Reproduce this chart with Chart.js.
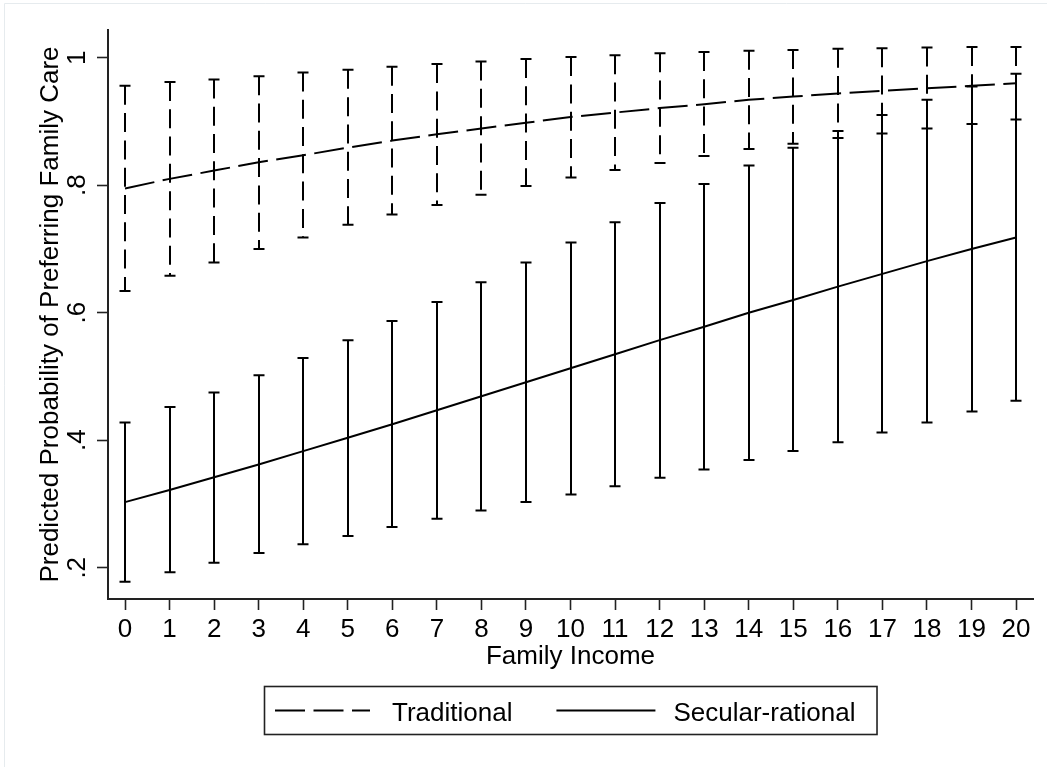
<!DOCTYPE html>
<html>
<head>
<meta charset="utf-8">
<title>Predicted Probability of Preferring Family Care</title>
<script src="https://cdn.jsdelivr.net/npm/chart.js@4.4.1/dist/chart.umd.min.js"></script>
<style>
  html, body { margin: 0; padding: 0; background: #fff; }
  canvas { display: block; }
</style>
</head>
<body>
<canvas id="chart" width="1047" height="767"></canvas>
<script>
// Family income categories (x axis)
const income = [0, 1, 2, 3, 4, 5, 6, 7, 8, 9, 10, 11, 12, 13, 14, 15, 16, 17, 18, 19, 20];

// Traditional: predicted probability and 95% confidence bounds
const tradMean = [0.795, 0.810, 0.823, 0.836, 0.847, 0.859, 0.870, 0.880, 0.889, 0.898, 0.907,
                  0.914, 0.921, 0.927, 0.934, 0.939, 0.944, 0.948, 0.952, 0.956, 0.960];
const tradHigh = [0.956, 0.962, 0.966, 0.971, 0.977, 0.981, 0.986, 0.990, 0.994, 0.998, 1.001,
                  1.004, 1.007, 1.009, 1.011, 1.012, 1.014, 1.015, 1.016, 1.017, 1.017];
const tradLow  = [0.634, 0.658, 0.679, 0.700, 0.718, 0.738, 0.754, 0.769, 0.785, 0.799, 0.812,
                  0.824, 0.835, 0.846, 0.857, 0.865, 0.874, 0.881, 0.889, 0.896, 0.903];

// Secular-rational: predicted probability and 95% confidence bounds
const secMean = [0.303, 0.322, 0.342, 0.362, 0.383, 0.404, 0.425, 0.447, 0.469, 0.491, 0.513,
                 0.535, 0.557, 0.578, 0.600, 0.620, 0.641, 0.661, 0.681, 0.700, 0.718];
const secHigh = [0.428, 0.452, 0.475, 0.502, 0.529, 0.557, 0.587, 0.617, 0.648, 0.679, 0.710,
                 0.742, 0.772, 0.802, 0.831, 0.859, 0.885, 0.910, 0.934, 0.955, 0.975];
const secLow  = [0.178, 0.193, 0.208, 0.223, 0.237, 0.250, 0.264, 0.277, 0.290, 0.303, 0.315,
                 0.328, 0.341, 0.354, 0.369, 0.383, 0.397, 0.412, 0.428, 0.445, 0.462];

// Axis ticks and labels
const xTicks = income;
const yTicks = [0.2, 0.4, 0.6, 0.8, 1.0];
const seriesNames = ['Traditional', 'Secular-rational'];
const xTitle = 'Family Income';
const yTitle = 'Predicted Probability of Preferring Family Care';

const FONT_FAMILY = "'Liberation Sans', Arial, Helvetica, sans-serif";
const FONT_SIZE = 26;
const INK = '#000000';
const AXIS = '#222222';
const LINE_DASH = [30, 8.5];
const BAR_DASH = [19, 8.3];

const toPoints = (ys) => income.map((x, i) => ({ x: x, y: ys[i] }));

const series = [
  { name: seriesNames[0], mean: tradMean, low: tradLow, high: tradHigh, dash: LINE_DASH, barDash: BAR_DASH },
  { name: seriesNames[1], mean: secMean,  low: secLow,  high: secHigh,  dash: [],        barDash: [] }
];

// Outer frame and white background
const backgroundPlugin = {
  id: 'pageBackground',
  beforeDraw(chart) {
    const ctx = chart.ctx;
    ctx.save();
    ctx.fillStyle = '#ffffff';
    ctx.fillRect(0, 0, chart.width, chart.height);
    ctx.strokeStyle = '#e6ebee';
    ctx.lineWidth = 1;
    ctx.beginPath();
    ctx.moveTo(4.5, chart.height);
    ctx.lineTo(4.5, 3.5);
    ctx.lineTo(chart.width, 3.5);
    ctx.stroke();
    ctx.restore();
  }
};

// Confidence-interval capped spikes for each series
const ciPlugin = {
  id: 'ciCaps',
  afterDatasetsDraw(chart) {
    const ctx = chart.ctx;
    const xs = chart.scales.x, ys = chart.scales.y;
    const capHalf = 5.5;
    ctx.save();
    ctx.strokeStyle = INK;
    ctx.lineWidth = 2;
    ctx.lineCap = 'butt';
    series.forEach(s => {
      income.forEach((v, i) => {
        const px = Math.round(xs.getPixelForValue(v));
        const yHi = ys.getPixelForValue(s.high[i]);
        const yLo = ys.getPixelForValue(s.low[i]);
        ctx.setLineDash(s.barDash);
        ctx.beginPath();
        ctx.moveTo(px, yHi);
        ctx.lineTo(px, yLo);
        ctx.stroke();
        ctx.setLineDash([]);
        ctx.beginPath();
        ctx.moveTo(px - capHalf, yHi);
        ctx.lineTo(px + capHalf, yHi);
        ctx.moveTo(px - capHalf, yLo);
        ctx.lineTo(px + capHalf, yLo);
        ctx.stroke();
      });
    });
    ctx.restore();
  }
};

// Boxed legend under the x-axis title
const legendPlugin = {
  id: 'boxedLegend',
  afterDraw(chart) {
    const ctx = chart.ctx;
    const area = chart.chartArea;
    ctx.save();
    ctx.font = FONT_SIZE + 'px ' + FONT_FAMILY;
    const sampleW = [95, 99];
    const gapSampleText = [22, 18];
    const padL = 10.5, padR = 21.5, itemGap = 44;
    const texts = chart.data.datasets.map(d => d.label);
    const textW = texts.map(t => ctx.measureText(t).width);
    let total = padL + padR;
    texts.forEach((t, i) => { total += sampleW[i] + gapSampleText[i] + textW[i]; });
    total += itemGap * (texts.length - 1);
    const cx = (area.left + area.right) / 2;
    const boxL = Math.round(cx - total / 2) + 0.5;
    const boxT = 686.5, boxH = 48;
    ctx.strokeStyle = AXIS;
    ctx.lineWidth = 1.6;
    ctx.strokeRect(boxL, boxT, total, boxH);
    const midY = boxT + boxH / 2;
    let x = boxL + padL;
    chart.data.datasets.forEach((d, i) => {
      ctx.strokeStyle = INK;
      ctx.lineWidth = 2;
      ctx.setLineDash(d.borderDash || []);
      ctx.beginPath();
      ctx.moveTo(x, midY);
      ctx.lineTo(x + sampleW[i], midY);
      ctx.stroke();
      ctx.setLineDash([]);
      x += sampleW[i] + gapSampleText[i];
      ctx.fillStyle = INK;
      ctx.textBaseline = 'alphabetic';
      ctx.textAlign = 'left';
      ctx.fillText(texts[i], x, boxT + 34.5);
      x += textW[i] + itemGap;
    });
    ctx.restore();
  }
};

const font = { family: FONT_FAMILY, size: FONT_SIZE };

new Chart(document.getElementById('chart'), {
  type: 'line',
  data: {
    datasets: series.map(s => ({
      label: s.name,
      data: toPoints(s.mean),
      borderColor: INK,
      backgroundColor: INK,
      borderWidth: 2,
      borderDash: s.dash,
      pointRadius: 0,
      pointHoverRadius: 0,
      tension: 0,
      fill: false
    }))
  },
  options: {
    responsive: false,
    animation: false,
    devicePixelRatio: 1,
    layout: { padding: { top: 30, right: 14, bottom: 90, left: 0 } },
    plugins: {
      legend: { display: false },
      tooltip: { enabled: false }
    },
    scales: {
      x: {
        type: 'linear',
        min: -0.3816,
        max: 20.38,
        afterBuildTicks: (scale) => { scale.ticks = xTicks.map(v => ({ value: v })); },
        afterFit: (scale) => { scale.height = 78; },
        ticks: {
          font: font,
          color: INK,
          padding: 4,
          autoSkip: false,
          maxRotation: 0,
          minRotation: 0,
          callback: (v) => String(v)
        },
        grid: {
          drawOnChartArea: false,
          drawTicks: true,
          tickLength: 11,
          tickWidth: 1.6,
          tickColor: AXIS
        },
        border: { display: true, color: AXIS, width: 2 },
        title: {
          display: true,
          text: xTitle,
          font: font,
          color: INK,
          padding: { top: 0, bottom: 5 }
        }
      },
      y: {
        type: 'linear',
        min: 0.151,
        max: 1.0435,
        afterBuildTicks: (scale) => { scale.ticks = yTicks.map(v => ({ value: v })); },
        afterFit: (scale) => { scale.width = 108; },
        ticks: {
          font: font,
          color: INK,
          padding: 8,
          minRotation: 90,
          maxRotation: 90,
          crossAlign: 'center',
          callback: (v) => {
            const s = Number(v).toFixed(1);
            return s === '1.0' ? '1' : s.replace(/^0/, '');
          }
        },
        grid: {
          drawOnChartArea: false,
          drawTicks: true,
          tickLength: 11,
          tickWidth: 1.6,
          tickColor: AXIS
        },
        border: { display: true, color: AXIS, width: 2 },
        title: {
          display: true,
          text: yTitle,
          font: font,
          color: INK,
          padding: { top: 35, bottom: 0 }
        }
      }
    }
  },
  plugins: [backgroundPlugin, ciPlugin, legendPlugin]
});
</script>
</body>
</html>
